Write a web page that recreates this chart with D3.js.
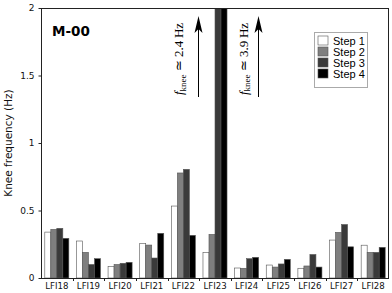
<!DOCTYPE html>
<html><head><meta charset="utf-8">
<script src="https://cdn.jsdelivr.net/npm/d3@7/dist/d3.min.js"></script>
<style>html,body{margin:0;padding:0;background:#fff;}svg{display:block;}</style>
</head><body>
<svg id="c" width="392" height="293"></svg>
<script>
const categories = ["LFI18","LFI19","LFI20","LFI21","LFI22","LFI23","LFI24","LFI25","LFI26","LFI27","LFI28"];
const seriesNames = ["Step 1","Step 2","Step 3","Step 4"];
const step1 = [0.340, 0.274, 0.086, 0.257, 0.533, 0.188, 0.074, 0.096, 0.072, 0.281, 0.243];
const step2 = [0.360, 0.190, 0.100, 0.244, 0.778, 0.323, 0.072, 0.081, 0.089, 0.338, 0.190];
const step3 = [0.368, 0.100, 0.109, 0.148, 0.805, 2.400, 0.143, 0.104, 0.174, 0.396, 0.190];
const step4 = [0.294, 0.143, 0.116, 0.331, 0.316, 3.900, 0.153, 0.138, 0.081, 0.231, 0.227];
const yTicks = [0, 0.5, 1, 1.5, 2];
const yTickLabels = ["0", "0.5", "1", "1.5", "2"];
const annotations = [{cat: "LFI23", series: "Step 3", value: "2.4"}, {cat: "LFI23", series: "Step 4", value: "3.9"}];

const series = [step1, step2, step3, step4];
const colors = ["#ffffff", "#7f7f7f", "#3a3a3a", "#000000"];

const svg = d3.select("#c");
const L = 41, R = 389, T = 8, B = 278;

const x0 = d3.scaleBand().domain(categories).range([L, R]).paddingInner(0.24).paddingOuter(0.12);
const x1 = d3.scaleBand().domain(seriesNames).range([0, x0.bandwidth()]);
const y = d3.scaleLinear().domain([0, 2]).range([B, T]);

svg.append("defs").append("clipPath").attr("id", "clip")
  .append("rect").attr("x", L).attr("y", T).attr("width", R - L).attr("height", B - T);

const g = svg.append("g").attr("clip-path", "url(#clip)");
categories.forEach((c, i) => {
  series.forEach((s, k) => {
    g.append("rect")
      .attr("x", x0(c) + x1(seriesNames[k]))
      .attr("y", y(s[i]))
      .attr("width", x1.bandwidth())
      .attr("height", B - y(s[i]))
      .attr("fill", colors[k])
      .attr("stroke", "#555")
      .attr("stroke-width", 0.6);
  });
});

// frame
svg.append("rect").attr("x", L + 0.5).attr("y", T + 0.5).attr("width", R - L - 1).attr("height", B - T)
  .attr("fill", "none").attr("stroke", "#222").attr("stroke-width", 1);

// y axis
const yAxis = d3.axisLeft(y).tickValues(yTicks).tickFormat((d, i) => yTickLabels[i]).tickSize(3).tickPadding(4);
const ya = svg.append("g").attr("transform", `translate(${L + 0.5},0)`).call(yAxis);
ya.select(".domain").remove();
ya.selectAll("text").attr("font-family", "DejaVu Sans").attr("font-size", "9px").attr("fill", "#111");
ya.selectAll("line").attr("stroke", "#222");

// x axis labels
const xAxis = d3.axisBottom(x0).tickSize(0).tickPadding(5);
const xa = svg.append("g").attr("transform", `translate(0,${B})`).call(xAxis);
xa.select(".domain").remove();
xa.selectAll("text").attr("font-family", "DejaVu Sans").attr("font-size", "8.6px").attr("fill", "#111");
// boundary ticks
const bounds = d3.range(1, categories.length).map(i => x0(categories[i]) - x0.step() * x0.paddingInner() / 2);
svg.append("g").selectAll("line").data(bounds).join("line")
  .attr("x1", d => Math.round(d) + 0.5).attr("x2", d => Math.round(d) + 0.5)
  .attr("y1", B).attr("y2", B + 3).attr("stroke", "#222");

// y label
svg.append("text").attr("transform", `translate(11.5,${(T + B) / 2}) rotate(-90)`)
  .attr("text-anchor", "middle").attr("font-family", "DejaVu Sans").attr("font-size", "10.5px").attr("fill", "#111")
  .text("Knee frequency (Hz)");

// title
svg.append("text").attr("x", 52).attr("y", 36).attr("font-family", "DejaVu Sans").attr("font-weight", "bold")
  .attr("font-size", "13.5px").attr("fill", "#000").text("M-00");

// annotations
const annoX = [183, 247.5];
const arrowX = [198, 258];
annotations.forEach((a, j) => {
  const t = svg.append("text").attr("transform", `translate(${annoX[j]},59) rotate(-90)`)
    .attr("text-anchor", "middle").attr("font-family", "Liberation Serif").attr("font-size", "13px").attr("fill", "#000");
  t.append("tspan").attr("font-style", "italic").text("f");
  t.append("tspan").attr("font-size", "9px").attr("dy", 2.8).text("knee");
  t.append("tspan").attr("dy", -2.8).text(" \u2243 " + a.value + "\u2009Hz");
  const ax = arrowX[j] + 0.5;
  svg.append("line").attr("x1", ax).attr("x2", ax).attr("y1", 97).attr("y2", 26).attr("stroke", "#000").attr("stroke-width", 1);
  svg.append("path").attr("d", `M${ax},16 L${ax - 4},33 L${ax},29 L${ax + 4},33 Z`).attr("fill", "#000");
});

// legend
const lg = svg.append("g");
lg.append("rect").attr("x", 314.5).attr("y", 32.5).attr("width", 53).attr("height", 55)
  .attr("fill", "#fff").attr("stroke", "#aaa").attr("stroke-width", 1);
seriesNames.forEach((n, k) => {
  const yy = 36 + k * 11;
  lg.append("rect").attr("x", 318).attr("y", yy).attr("width", 10).attr("height", 9)
    .attr("fill", colors[k]).attr("stroke", "#555").attr("stroke-width", 0.6);
  lg.append("text").attr("x", 333).attr("y", yy + 8.5).attr("font-family", "Liberation Sans").attr("font-size", "11px")
    .attr("fill", "#000").text(n);
});
</script>
</body></html>
